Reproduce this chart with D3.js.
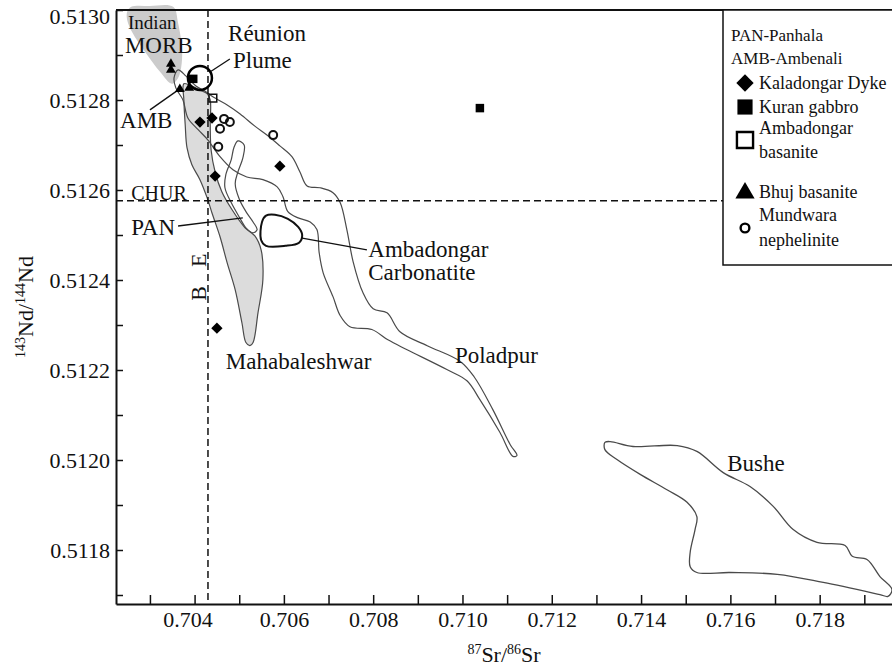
<!DOCTYPE html>
<html><head><meta charset="utf-8">
<script src="https://cdn.jsdelivr.net/npm/d3@7"></script>
<style>
body{margin:0;background:#fff}
svg{display:block}
text{font-family:"Liberation Serif","Times New Roman",serif;fill:#111}
</style>
</head><body>
<svg id="chart" width="892" height="672"></svg>
<script>
// ---------- data ----------
const xDomain = [0.70224, 0.71962];
const yDomain = [0.51168, 0.51300];
const xTickValues = d3.range(703, 720).map(v => v / 1000);
const xLabelValues = [0.704, 0.706, 0.708, 0.710, 0.712, 0.714, 0.716, 0.718];
const yTickValues = d3.range(5117, 5131).map(v => v / 10000);
const yLabelValues = [0.5118, 0.5120, 0.5122, 0.5124, 0.5126, 0.5128, 0.5130];

const CHUR = 0.512576;
const BE = 0.70430;

const kaladongarDyke = [[0.70412,0.512751],[0.70439,0.512760],[0.70446,0.512631],[0.70591,0.512653],[0.70450,0.512293]];
const kuranGabbro = [[0.70397,0.512847],[0.71039,0.512782]];
const ambadongarBasanite = [[0.70441,0.512804]];
const bhujBasanite = [[0.70347,0.512880],[0.70347,0.512867],[0.70367,0.512824],[0.70388,0.512827]];
const mundwaraNephelinite = [[0.70466,0.512758],[0.70479,0.512751],[0.70457,0.512736],[0.70453,0.512696],[0.70576,0.512722]];
const reunionPlume = [0.70412, 0.512849];

const indianMORB = [[0.70249,0.512996],[0.70258,0.513007],[0.70300,0.513009],[0.70352,0.513007],[0.70363,0.512971],[0.70372,0.512911],[0.70370,0.512873],[0.70363,0.512849],[0.70349,0.512836],[0.70323,0.512862],[0.70289,0.512907],[0.70260,0.512951],[0.70249,0.512978]];

const mahabaleshwar = [[0.70376,0.512836],[0.70394,0.512831],[0.70412,0.512822],[0.70428,0.512814],[0.70435,0.512800],[0.70435,0.512745],[0.70437,0.512689],[0.70446,0.512640],[0.70461,0.512596],[0.70484,0.512556],[0.70513,0.512516],[0.70535,0.512498],[0.70549,0.512467],[0.70553,0.512401],[0.70542,0.512327],[0.70531,0.512261],[0.70524,0.512254],[0.70515,0.512261],[0.70506,0.512305],[0.70491,0.512378],[0.70473,0.512438],[0.70457,0.512496],[0.70439,0.512549],[0.70428,0.512583],[0.70412,0.512623],[0.70394,0.512656],[0.70383,0.512694],[0.70379,0.512745],[0.70376,0.512800]];

const poladpur = [[0.70363,0.512867],[0.70381,0.512853],[0.70403,0.512831],[0.70426,0.512818],[0.70441,0.512807],[0.70473,0.512789],[0.70502,0.512769],[0.70535,0.512742],[0.70565,0.512720],[0.70591,0.512698],[0.70618,0.512674],[0.70636,0.512640],[0.70652,0.512609],[0.70681,0.512605],[0.70710,0.512594],[0.70726,0.512572],[0.70741,0.512512],[0.70755,0.512441],[0.70777,0.512372],[0.70800,0.512336],[0.70831,0.512327],[0.70860,0.512285],[0.70921,0.512254],[0.70995,0.512219],[0.71026,0.512185],[0.71068,0.512112],[0.71107,0.512034],[0.71122,0.512010],[0.71113,0.512008],[0.71084,0.512061],[0.71039,0.512134],[0.71010,0.512176],[0.70965,0.512201],[0.70876,0.512245],[0.70833,0.512267],[0.70797,0.512290],[0.70748,0.512296],[0.70726,0.512321],[0.70710,0.512363],[0.70688,0.512416],[0.70679,0.512461],[0.70674,0.512512],[0.70659,0.512529],[0.70632,0.512538],[0.70609,0.512552],[0.70598,0.512585],[0.70585,0.512607],[0.70553,0.512623],[0.70517,0.512629],[0.70486,0.512645],[0.70457,0.512674],[0.70430,0.512711],[0.70408,0.512734],[0.70385,0.512760],[0.70374,0.512800],[0.70358,0.512827],[0.70354,0.512849]];

const panhala = [[0.70497,0.512709],[0.70511,0.512700],[0.70508,0.512671],[0.70497,0.512640],[0.70491,0.512614],[0.70500,0.512580],[0.70515,0.512552],[0.70531,0.512529],[0.70540,0.512512],[0.70531,0.512505],[0.70515,0.512516],[0.70500,0.512540],[0.70482,0.512572],[0.70468,0.512605],[0.70470,0.512634],[0.70482,0.512667],[0.70488,0.512694]];

const ambadongarCarbonatite = [[0.70551,0.512529],[0.70560,0.512543],[0.70580,0.512545],[0.70609,0.512536],[0.70632,0.512518],[0.70641,0.512500],[0.70634,0.512483],[0.70603,0.512476],[0.70560,0.512476],[0.70549,0.512489]];

const bushe = [[0.71319,0.512039],[0.71331,0.512041],[0.71382,0.512030],[0.71481,0.512032],[0.71525,0.512019],[0.71584,0.511972],[0.71644,0.511941],[0.71696,0.511897],[0.71740,0.511846],[0.71794,0.511817],[0.71857,0.511810],[0.71873,0.511786],[0.71906,0.511779],[0.71935,0.511741],[0.71962,0.511712],[0.71953,0.511697],[0.71935,0.511701],[0.71808,0.511728],[0.71705,0.511746],[0.71599,0.511750],[0.71525,0.511750],[0.71510,0.511763],[0.71510,0.511795],[0.71521,0.511846],[0.71525,0.511874],[0.71503,0.511906],[0.71458,0.511934],[0.71398,0.511968],[0.71346,0.512001],[0.71319,0.512023]];

// annotations: [text, Sr, Nd, fontSize]
const annotations = [
  ["Indian", 0.70251, 0.512973, 19],
  ["MORB", 0.70244, 0.512922, 23],
  ["Réunion", 0.70475, 0.512949, 23],
  ["Plume", 0.70486, 0.512889, 23],
  ["AMB", 0.70233, 0.512756, 23],
  ["CHUR", 0.70258, 0.512593, 20],
  ["PAN", 0.70258, 0.512518, 23],
  ["Mahabaleshwar", 0.70470, 0.512221, 23],
  ["Ambadongar", 0.70789, 0.512469, 23],
  ["Carbonatite", 0.70789, 0.512418, 23],
  ["Poladpur", 0.70983, 0.512234, 23],
  ["Bushe", 0.71593, 0.511994, 23]
];
// rotated bulk-earth letters: [text, Sr, Nd]
const beLetters = [["B", 0.70408, 0.512370], ["E", 0.70408, 0.512444]];
// leader lines: [[Sr1,Nd1],[Sr2,Nd2]]
const leaders = [
  [[0.70300,0.512778],[0.70370,0.512827]],
  [[0.70437,0.512864],[0.70479,0.512891]],
  [[0.70363,0.512520],[0.70508,0.512538]],
  [[0.70641,0.512493],[0.70786,0.512467]]
];
const legendHeader = ["PAN-Panhala", "AMB-Ambenali"];
const legendItems = [
  {key:"diamond", lines:["Kaladongar Dyke"]},
  {key:"square", lines:["Kuran gabbro"]},
  {key:"open", lines:["Ambadongar","basanite"]},
  {key:"triangle", lines:["Bhuj basanite"]},
  {key:"circle", lines:["Mundwara","nephelinite"]}
];

// ---------- drawing ----------
const svg = d3.select("#chart");
const L = 116, R = 892, T = 10, B = 604;
const x = d3.scaleLinear().domain(xDomain).range([L, R]);
const y = d3.scaleLinear().domain(yDomain).range([B, T]);

svg.append("rect").attr("width", 892).attr("height", 672).attr("fill", "#fff");

const closed = d3.line().x(d => x(d[0])).y(d => y(d[1])).curve(d3.curveCatmullRomClosed.alpha(0.5));

// fields
svg.append("path").attr("d", closed(indianMORB)).attr("fill", "#cbcbcb").attr("stroke", "none");
svg.append("path").attr("d", closed(mahabaleshwar)).attr("fill", "#dcdcdc").attr("stroke", "#4a4a4a").attr("stroke-width", 1.2);
[poladpur, panhala].forEach(f => svg.append("path").attr("d", closed(f)).attr("fill", "none").attr("stroke", "#4a4a4a").attr("stroke-width", 1.2));
svg.append("path").attr("d", closed(ambadongarCarbonatite)).attr("fill", "none").attr("stroke", "#111").attr("stroke-width", 2);
svg.append("path").attr("d", closed(bushe)).attr("fill", "none").attr("stroke", "#4a4a4a").attr("stroke-width", 1.3);

// reference lines
svg.append("line").attr("x1", L).attr("x2", 723).attr("y1", y(CHUR)).attr("y2", y(CHUR))
  .attr("stroke", "#111").attr("stroke-width", 1.5).attr("stroke-dasharray", "7,4");
svg.append("line").attr("x1", x(BE)).attr("x2", x(BE)).attr("y1", T).attr("y2", B)
  .attr("stroke", "#111").attr("stroke-width", 1.5).attr("stroke-dasharray", "7,4");

// leaders
leaders.forEach(l => svg.append("line").attr("x1", x(l[0][0])).attr("y1", y(l[0][1])).attr("x2", x(l[1][0])).attr("y2", y(l[1][1]))
  .attr("stroke", "#111").attr("stroke-width", 1.3));

// Réunion plume circle
svg.append("circle").attr("cx", x(reunionPlume[0])).attr("cy", y(reunionPlume[1])).attr("r", 12)
  .attr("fill", "none").attr("stroke", "#000").attr("stroke-width", 2.5);

// symbols
const sym = (type, size) => d3.symbol().type(type).size(size)();
function drawPts(data, type, size, opts) {
  svg.selectAll(null).data(data).enter().append("path")
    .attr("d", sym(type, size))
    .attr("transform", d => `translate(${x(d[0])},${y(d[1])})` + (opts.rot ? " rotate(45)" : ""))
    .attr("fill", opts.fill).attr("stroke", opts.stroke || "none").attr("stroke-width", opts.sw || 0);
}
drawPts(kaladongarDyke, d3.symbolSquare, 64, {fill:"#000", rot:true});
drawPts(kuranGabbro, d3.symbolSquare, 72, {fill:"#000"});
drawPts(ambadongarBasanite, d3.symbolSquare, 60, {fill:"none", stroke:"#111", sw:1.5});
drawPts(bhujBasanite, d3.symbolTriangle, 42, {fill:"#000"});
drawPts(mundwaraNephelinite, d3.symbolCircle, 50, {fill:"none", stroke:"#111", sw:2});

// annotations
annotations.forEach(a => svg.append("text").attr("x", x(a[1])).attr("y", y(a[2])).attr("dy", "0.35em")
  .attr("font-size", a[3]).text(a[0]));
beLetters.forEach(b => svg.append("text").attr("transform", `translate(${x(b[1])},${y(b[2])}) rotate(-90)`)
  .attr("text-anchor", "middle").attr("dy", "0.35em").attr("font-size", 22).text(b[0]));

// axes
const xAxis = d3.axisBottom(x).tickValues(xTickValues).tickSize(-9).tickSizeOuter(0).tickPadding(7)
  .tickFormat(d => xLabelValues.some(v => Math.abs(v - d) < 1e-7) ? d3.format(".3f")(d) : "");
const gx = svg.append("g").attr("transform", `translate(0,${B})`).call(xAxis);
const yAxis = d3.axisLeft(y).tickValues(yTickValues).tickSize(-7).tickSizeOuter(0).tickPadding(6)
  .tickFormat(d => yLabelValues.some(v => Math.abs(v - d) < 1e-8) ? d3.format(".4f")(d) : "");
const gy = svg.append("g").attr("transform", `translate(${L},0)`).call(yAxis);
[gx, gy].forEach(g => {
  g.attr("font-family", null).attr("font-size", null);
  g.selectAll("text").attr("font-size", 22).attr("fill", "#111");
  g.selectAll(".tick line").attr("stroke", "#111").attr("stroke-width", 1.5);
  g.select(".domain").attr("stroke", "#111").attr("stroke-width", 2);
});
// keep the topmost label inside the picture; first x label sits left of the BE line
gy.selectAll(".tick text").filter(d => Math.abs(d - 0.5130) < 1e-8).attr("dy", "0.62em");
gx.selectAll(".tick text").filter(d => Math.abs(d - 0.704) < 1e-8).attr("dx", -7);
svg.append("line").attr("x1", L).attr("x2", R).attr("y1", T).attr("y2", T).attr("stroke", "#111").attr("stroke-width", 2);

// axis titles
const xt = svg.append("text").attr("x", (L + R) / 2).attr("y", 662).attr("text-anchor", "middle").attr("font-size", 22);
xt.append("tspan").attr("font-size", 14).attr("dy", -8).text("87");
xt.append("tspan").attr("dy", 8).text("Sr/");
xt.append("tspan").attr("font-size", 14).attr("dy", -8).text("86");
xt.append("tspan").attr("dy", 8).text("Sr");
const yt = svg.append("text").attr("transform", "translate(33,307) rotate(-90)").attr("text-anchor", "middle").attr("font-size", 22);
yt.append("tspan").attr("font-size", 14).attr("dy", -8).text("143");
yt.append("tspan").attr("dy", 8).text("Nd/");
yt.append("tspan").attr("font-size", 14).attr("dy", -8).text("144");
yt.append("tspan").attr("dy", 8).text("Nd");

// legend
const lg = svg.append("g");
lg.append("rect").attr("x", 723).attr("y", T).attr("width", 200).attr("height", 255).attr("fill", "#fff").attr("stroke", "#111").attr("stroke-width", 1.5);
legendHeader.forEach((t, i) => lg.append("text").attr("x", 731).attr("y", 35 + i * 23).attr("dy", "0.35em").attr("font-size", 17).text(t));
const rowY = [83, 107, 140, 192, 228];
const textY = [[83], [107], [128, 152], [192], [215, 240]];
legendItems.forEach((it, i) => {
  const cx = 745, cy = rowY[i];
  if (it.key === "diamond") lg.append("path").attr("d", sym(d3.symbolSquare, 150)).attr("transform", `translate(${cx},${cy}) rotate(45)`).attr("fill", "#000");
  if (it.key === "square") lg.append("path").attr("d", sym(d3.symbolSquare, 230)).attr("transform", `translate(${cx},${cy})`).attr("fill", "#000");
  if (it.key === "open") lg.append("path").attr("d", sym(d3.symbolSquare, 260)).attr("transform", `translate(${cx},${cy})`).attr("fill", "none").attr("stroke", "#000").attr("stroke-width", 2.4);
  if (it.key === "triangle") lg.append("path").attr("d", sym(d3.symbolTriangle, 160)).attr("transform", `translate(${cx},${cy + 1})`).attr("fill", "#000");
  if (it.key === "circle") lg.append("path").attr("d", sym(d3.symbolCircle, 60)).attr("transform", `translate(${cx},${cy})`).attr("fill", "none").attr("stroke", "#000").attr("stroke-width", 2.4);
  it.lines.forEach((t, j) => lg.append("text").attr("x", 759).attr("y", textY[i][j]).attr("dy", "0.35em").attr("font-size", 18).text(t));
});
</script>
</body></html>
